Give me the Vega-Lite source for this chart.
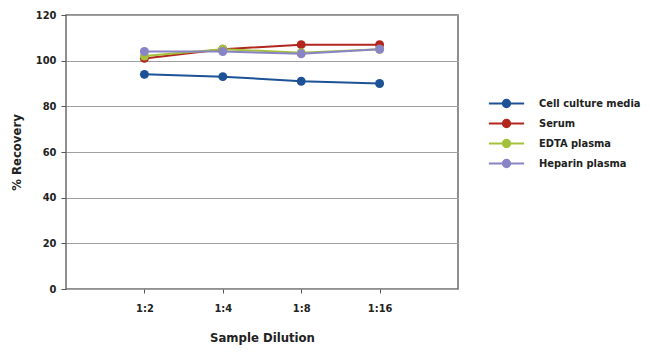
{
  "$schema": "https://vega.github.io/schema/vega-lite/v6.json",
  "autosize": "none",
  "width": 392,
  "height": 274,
  "padding": {"left": 66, "top": 15, "right": 192, "bottom": 69},
  "background": "white",
  "config": {
    "font": "DejaVu Sans Condensed, Roboto, sans-serif",
    "view": {"stroke": "#6b6b6b", "strokeWidth": 1.5},
    "axis": {"labelFont": "DejaVu Sans Condensed, Roboto, sans-serif", "titleFont": "DejaVu Sans Condensed, Roboto, sans-serif", "labelFontWeight": "bold", "titleFontWeight": "bold", "labelColor": "#222", "titleColor": "#222"}
  },
  "data": {"values": [
    {"dilution": "1:2", "sample": "Cell culture media", "recovery": 94},
    {"dilution": "1:4", "sample": "Cell culture media", "recovery": 93},
    {"dilution": "1:8", "sample": "Cell culture media", "recovery": 91},
    {"dilution": "1:16", "sample": "Cell culture media", "recovery": 90},
    {"dilution": "1:2", "sample": "Serum", "recovery": 101},
    {"dilution": "1:4", "sample": "Serum", "recovery": 105},
    {"dilution": "1:8", "sample": "Serum", "recovery": 107},
    {"dilution": "1:16", "sample": "Serum", "recovery": 107},
    {"dilution": "1:2", "sample": "EDTA plasma", "recovery": 102},
    {"dilution": "1:4", "sample": "EDTA plasma", "recovery": 105},
    {"dilution": "1:8", "sample": "EDTA plasma", "recovery": 103.5},
    {"dilution": "1:16", "sample": "EDTA plasma", "recovery": 105},
    {"dilution": "1:2", "sample": "Heparin plasma", "recovery": 104},
    {"dilution": "1:4", "sample": "Heparin plasma", "recovery": 104},
    {"dilution": "1:8", "sample": "Heparin plasma", "recovery": 103},
    {"dilution": "1:16", "sample": "Heparin plasma", "recovery": 105}
  ]},
  "mark": {"type": "line", "strokeWidth": 2, "point": {"filled": true, "size": 80, "opacity": 1}},
  "encoding": {
    "x": {
      "field": "dilution", "type": "ordinal", "sort": ["1:2", "1:4", "1:8", "1:16"],
      "scale": {"type": "point", "padding": 1},
      "axis": {"title": "Sample Dilution", "labelAngle": 0, "labelFontSize": 11, "titleFontSize": 13, "labelPadding": 9, "titlePadding": 18, "domain": false, "ticks": true, "tickColor": "#555", "tickSize": 4, "grid": false}
    },
    "y": {
      "field": "recovery", "type": "quantitative",
      "scale": {"domain": [0, 120]},
      "axis": {"title": "% Recovery", "values": [0, 20, 40, 60, 80, 100, 120], "labelFontSize": 11, "titleFontSize": 13, "labelPadding": 5, "titlePadding": 12, "domain": false, "tickColor": "#555", "tickSize": 5, "gridColor": "#a0a0a0", "gridWidth": 1.2}
    },
    "color": {
      "field": "sample", "type": "nominal",
      "sort": ["Cell culture media", "Serum", "EDTA plasma", "Heparin plasma"],
      "scale": {"domain": ["Cell culture media", "Serum", "EDTA plasma", "Heparin plasma"], "range": ["#1d5296", "#b3261e", "#a3c13a", "#8884c6"]},
      "legend": {
        "title": null, "orient": "none", "legendX": 432, "legendY": 80,
        "labelFont": "DejaVu Sans Condensed, Roboto, sans-serif", "labelFontWeight": "bold", "labelFontSize": 11, "labelColor": "#222",
        "symbolType": "M-2.4,0H2.4M0.5,0A0.5,0.5,0,1,1,-0.5,0A0.5,0.5,0,1,1,0.5,0",
        "symbolSize": 216, "symbolStrokeWidth": 2, "rowPadding": 3, "labelOffset": 24,
        "encode": {"symbols": {"update": {"fill": {"scale": "color", "field": "value"}, "stroke": {"scale": "color", "field": "value"}, "opacity": {"value": 1}}}}
      }
    }
  }
}
